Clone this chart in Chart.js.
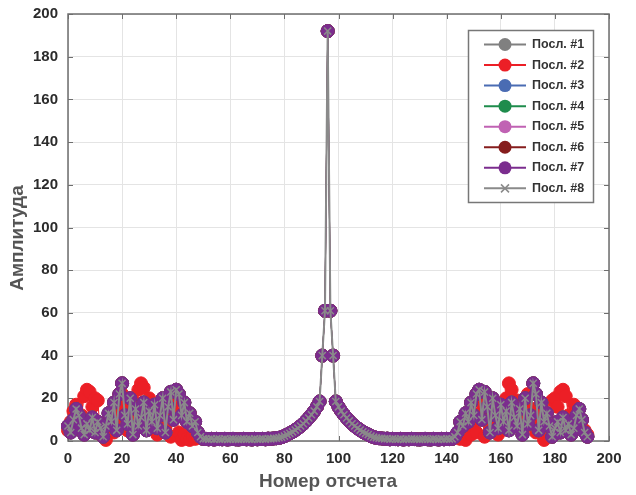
<!DOCTYPE html>
<html>
<head>
<meta charset="utf-8">
<script src="https://cdn.jsdelivr.net/npm/chart.js@4.4.0/dist/chart.umd.min.js"></script>
<style>
  html, body { margin: 0; padding: 0; background: #fff; }
</style>
</head>
<body>
<canvas id="chart" width="636" height="495"></canvas>
<script>
// legend names and colours
const seriesNames = ['Посл. #1', 'Посл. #2', 'Посл. #3', 'Посл. #4', 'Посл. #5', 'Посл. #6', 'Посл. #7', 'Посл. #8']
const seriesColors = ['#808080', '#ec1f26', '#4a6cb3', '#1e8c4c', '#c062b3', '#861d1d', '#7b2d8e', '#8a8a8a']

const xTicks = [0, 20, 40, 60, 80, 100, 120, 140, 160, 180, 200]
const yTicks = [0, 20, 40, 60, 80, 100, 120, 140, 160, 180, 200]

// amplitude per sample (0..192), series 1,3..8 overlap on this one
const ampMain = [
  7, 4, 10, 15, 12, 6, 3, 8, 5, 11,
  4, 9, 6, 2, 7, 13, 9, 18, 5, 22,
  27, 12, 8, 20, 3, 15, 7, 11, 18, 5,
  14, 9, 17, 6, 12, 20, 4, 16, 23, 10,
  24, 22, 12, 18, 9, 13, 7, 9, 4, 2,
  1,
  1, 0.8, 1, 0.7, 1, 0.9, 0.8, 1, 0.7, 0.9,
  1, 0.8, 0.7, 0.9, 1, 0.8, 0.9, 0.7, 1, 0.8,
  0.9, 1, 0.8, 1.1, 1,
  1.2, 1.3, 1.5, 1.8, 2.3, 3.0, 3.6, 4.3, 5.1, 6.0,
  7.0, 8.1, 9.4, 10.8, 12.3, 14, 16, 18.5, 40, 61,
  192,
  61, 40, 18.5, 16, 14, 12.3, 10.8, 9.4, 8.1, 7.0,
  6.0, 5.1, 4.3, 3.6, 3.0, 2.3, 1.8, 1.5, 1.3, 1.2,
  1, 1.1, 0.8, 1, 0.9, 0.8, 1, 0.7, 0.9, 0.8,
  1, 0.9, 0.8, 0.7, 0.9, 1, 0.8, 0.7, 1, 0.9,
  0.7, 1, 0.8, 1, 0.9,
  1, 2, 4, 9, 7, 13, 9, 18, 12, 22,
  24, 10, 23, 16, 4, 20, 12, 6, 17, 9,
  14, 5, 18, 11, 7, 15, 3, 20, 8, 12,
  27, 22, 5, 18, 9, 13, 7, 2, 6, 9,
  4, 11, 5, 8, 3, 6, 12, 15, 10, 4,
  2
]

// series 2 (red)
const ampRed = [
  5, 9, 14, 17, 6, 12, 21, 24, 23, 16,
  20, 19, 3, 8, 0.5, 6, 11, 4, 15, 9,
  22, 17, 5, 13, 19, 8, 24, 27, 25, 12,
  20, 7, 14, 3, 9, 16, 6, 11, 2, 18,
  13, 4, 0.5, 3, 1, 0.5, 2, 1, 2, 1.5,
  1,
  1, 0.8, 1, 0.7, 1, 0.9, 0.8, 1, 0.7, 0.9,
  1, 0.8, 0.7, 0.9, 1, 0.8, 0.9, 0.7, 1, 0.8,
  0.9, 1, 0.8, 1.1, 1,
  1.2, 1.3, 1.5, 1.8, 2.3, 3.0, 3.6, 4.3, 5.1, 6.0,
  7.0, 8.1, 9.4, 10.8, 12.3, 14, 16, 18.5, 40, 61,
  192,
  61, 40, 18.5, 16, 14, 12.3, 10.8, 9.4, 8.1, 7.0,
  6.0, 5.1, 4.3, 3.6, 3.0, 2.3, 1.8, 1.5, 1.3, 1.2,
  1, 1.1, 0.8, 1, 0.9, 0.8, 1, 0.7, 0.9, 0.8,
  1, 0.9, 0.8, 0.7, 0.9, 1, 0.8, 0.7, 1, 0.9,
  0.7, 1, 0.8, 1, 0.9,
  1, 1.5, 2, 1, 5, 0.5, 6, 3, 8, 4,
  13, 18, 2, 11, 6, 16, 9, 3, 14, 7,
  20, 27, 24, 8, 19, 13, 5, 17, 22, 9,
  15, 4, 11, 6, 0.5, 8, 3, 19, 20, 16,
  23, 24, 21, 12, 6, 17, 14, 9, 10, 5,
  3
]

const seriesValues = [ampMain, ampRed, ampMain, ampMain, ampMain, ampMain, ampMain, ampMain]

const FONT = '"Liberation Sans", Arial, sans-serif'

function toPoints(arr) {
  return arr.map((v, i) => ({ x: i, y: v }))
}

const datasets = seriesNames.map(function (name, i) {
  const isCross = i === 7
  return {
    label: name,
    data: toPoints(seriesValues[i]),
    showLine: true,
    borderColor: seriesColors[i],
    borderWidth: isCross ? 2 : 1,
    pointStyle: isCross ? 'crossRot' : 'circle',
    pointRadius: isCross ? 5 : 6.5,
    pointBorderWidth: isCross ? 1.5 : 1,
    pointBackgroundColor: seriesColors[i],
    pointBorderColor: seriesColors[i],
    clip: false,
    order: 8 - i   // last series on top, like the plot
  }
})

// box, inward ticks
const framePlugin = {
  id: 'frame',
  beforeDatasetsDraw(chart) {
    const ctx = chart.ctx
    const a = chart.chartArea
    const xs = chart.scales.x, ys = chart.scales.y
    ctx.save()
    ctx.strokeStyle = '#6e6e6e'
    ctx.lineWidth = 1.5
    ctx.strokeRect(a.left, a.top, a.right - a.left, a.bottom - a.top)
    ctx.lineWidth = 1
    ctx.beginPath()
    xTicks.forEach(v => {
      const px = Math.round(xs.getPixelForValue(v)) + 0.5
      ctx.moveTo(px, a.bottom); ctx.lineTo(px, a.bottom - 5)
      ctx.moveTo(px, a.top); ctx.lineTo(px, a.top + 5)
    })
    yTicks.forEach(v => {
      const py = Math.round(ys.getPixelForValue(v)) + 0.5
      ctx.moveTo(a.left, py); ctx.lineTo(a.left + 5, py)
      ctx.moveTo(a.right, py); ctx.lineTo(a.right - 5, py)
    })
    ctx.stroke()
    ctx.restore()
  }
}

// matlab-like legend, line + marker
const legendPlugin = {
  id: 'boxLegend',
  afterDraw(chart) {
    const ctx = chart.ctx
    const bx = 468, by = 30, bw = 125, bh = 172
    ctx.save()
    ctx.fillStyle = '#fff'
    ctx.fillRect(bx, by, bw, bh)
    ctx.strokeStyle = '#777'
    ctx.lineWidth = 1.5
    ctx.strokeRect(bx + 0.5, by + 0.5, bw, bh)
    seriesNames.forEach(function (name, i) {
      const y = 44.5 + i * 20.55
      ctx.strokeStyle = seriesColors[i]
      ctx.lineWidth = 2
      ctx.beginPath()
      ctx.moveTo(484, y); ctx.lineTo(526, y)
      ctx.stroke()
      if (i === 7) {
        ctx.lineWidth = 1.5
        ctx.beginPath()
        ctx.moveTo(501, y - 4); ctx.lineTo(509, y + 4)
        ctx.moveTo(501, y + 4); ctx.lineTo(509, y - 4)
        ctx.stroke()
      } else {
        ctx.fillStyle = seriesColors[i]
        ctx.beginPath()
        ctx.arc(505, y, 6.5, 0, Math.PI * 2)
        ctx.fill()
      }
      ctx.fillStyle = '#333'
      ctx.font = 'bold 12.5px ' + FONT
      ctx.textBaseline = 'middle'
      ctx.textAlign = 'left'
      ctx.fillText(name, 532, y)
    })
    ctx.restore()
  }
}

new Chart(document.getElementById('chart'), {
  type: 'scatter',
  data: { datasets: datasets },
  options: {
    responsive: false,
    animation: false,
    devicePixelRatio: 1,
    layout: { padding: { top: 14, right: 27, left: 0, bottom: 0 } },
    plugins: {
      legend: { display: false },
      tooltip: { enabled: false }
    },
    scales: {
      x: {
        type: 'linear',
        min: 0,
        max: 200,
        afterBuildTicks: s => { s.ticks = xTicks.map(v => ({ value: v })) },
        afterFit: s => { s.height = 54 },
        grid: { color: '#e4e4e4', drawTicks: false },
        border: { display: false },
        ticks: {
          color: '#2b2b2b',
          padding: 9,
          maxRotation: 0,
          font: { family: FONT, size: 15, weight: 'bold' }
        },
        title: {
          display: true,
          text: 'Номер отсчета    ',
          color: '#555',
          padding: { top: 0, bottom: 2 },
          font: { family: FONT, size: 19, weight: 'bold' }
        }
      },
      y: {
        type: 'linear',
        min: 0,
        max: 200,
        afterBuildTicks: s => { s.ticks = yTicks.map(v => ({ value: v })) },
        afterFit: s => { s.width = 68 },
        // invisible tick marks push the labels left without adding top padding
        grid: { color: '#e4e4e4', drawTicks: true, tickLength: 6, tickColor: 'rgba(0,0,0,0)' },
        border: { display: false },
        ticks: {
          color: '#2b2b2b',
          padding: 4,
          font: { family: FONT, size: 15, weight: 'bold' }
        },
        title: {
          display: true,
          text: 'Амплитуда    ',
          color: '#555',
          padding: { top: 6, bottom: 0 },
          font: { family: FONT, size: 19, weight: 'bold' }
        }
      }
    }
  },
  plugins: [framePlugin, legendPlugin]
})
</script>
</body>
</html>
